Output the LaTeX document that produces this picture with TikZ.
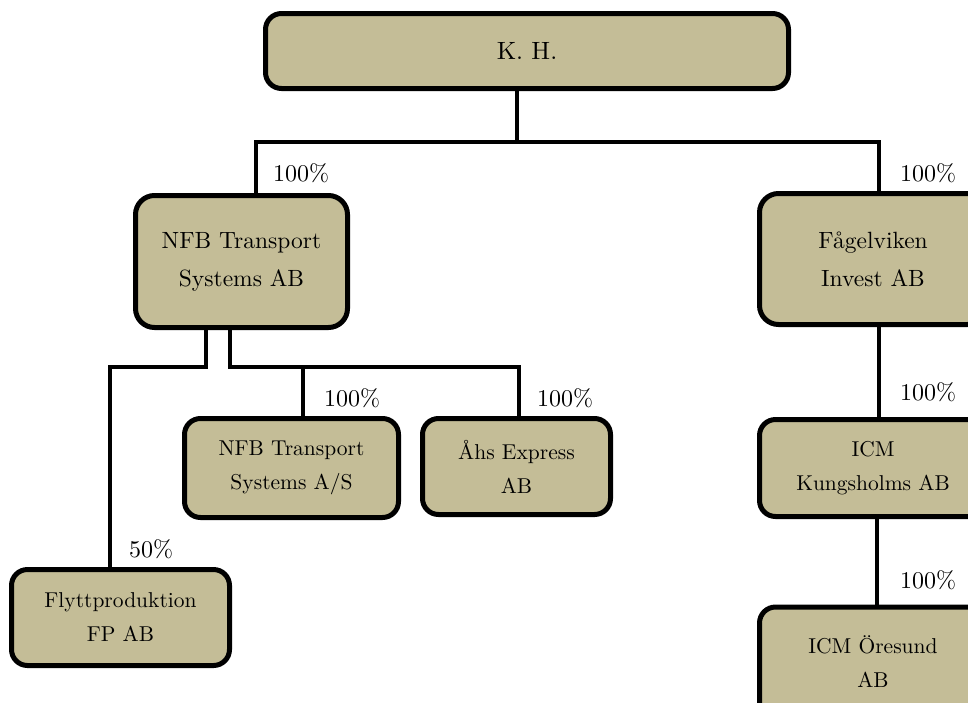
\documentclass[tikz,border=0pt]{standalone}
\usepackage{fontspec}
\setmainfont{lmroman10-regular.otf}
\usepackage{xcolor}
\definecolor{boxtan}{HTML}{C4BD97}
\begin{document}
\begin{tikzpicture}[x=1pt,y=-1pt,
  box/.style={draw=black,line width=5pt,fill=boxtan,rounded corners=16pt,align=center,inner sep=0pt,font=\fontsize{21.5}{34}\selectfont},
  bigbox/.style={box,rounded corners=19pt,font=\fontsize{23.5}{38}\selectfont},
  conn/.style={line width=4pt},
  pct/.style={inner sep=0pt,font=\fontsize{24}{28}\selectfont}]
\useasboundingbox (0,0) rectangle (968,702);
% boxes
\node[box,minimum width=523pt,minimum height=75pt,font=\fontsize{25}{28}\selectfont] (kh) at (527,51) {K. H.};
\node[bigbox,minimum width=212pt,minimum height=132pt] (nfb) at (241.5,261.5) {NFB Transport\\Systems AB};
\node[bigbox,minimum width=227pt,minimum height=131pt] (fag) at (873,259) {Fågelviken\\Invest AB};
\node[box,minimum width=214pt,minimum height=99pt] (nfbas) at (291.5,468) {NFB Transport\\Systems A/S};
\node[box,minimum width=188pt,minimum height=96pt] (ahs) at (516.5,466.5) {Åhs Express\\AB};
\node[box,minimum width=218pt,minimum height=96pt] (flytt) at (120.5,617.5) {Flyttproduktion\\FP AB};
\node[box,minimum width=227pt,minimum height=97pt] (kung) at (873,468) {ICM\\Kungsholms AB};
\node[box,minimum width=227pt,minimum height=110pt] (ores) at (873,662) {ICM Öresund\\AB};
% junction coordinates
\coordinate (j0) at (517,142);
\coordinate (t1) at (256,142);
\coordinate (t2) at (879,142);
\coordinate (b1) at (206,367);
\coordinate (b2) at (230,367);
\coordinate (fl) at (110,367);
\coordinate (a1) at (303,367);
\coordinate (a2) at (519,367);
\coordinate (r1) at (879,400);
\coordinate (r2) at (877,560);
% connectors
\draw[conn] (kh.south -| j0) -- (j0);
\draw[conn] (nfb.north -| t1) -- (t1) -- (t2) -- (fag.north -| t2);
\draw[conn] (nfb.south -| b1) -- (b1) -- (fl) -- (flytt.north -| fl);
\draw[conn] (nfb.south -| b2) -- (b2) -- (a2) -- (ahs.north -| a2);
\draw[conn] (a1) -- (nfbas.north -| a1);
\draw[conn] (fag.south -| r1) -- (kung.north -| r1);
\draw[conn] (kung.south -| r2) -- (ores.north -| r2);
% labels
\node[pct] (p1) at (301,173) {100\%};
\node[pct] (p2) at (928,173) {100\%};
\node[pct] (p3) at (352,398) {100\%};
\node[pct] (p4) at (565,398) {100\%};
\node[pct] (p5) at (151,549) {50\%};
\node[pct] (p6) at (928,392) {100\%};
\node[pct] (p7) at (928,580) {100\%};
\end{tikzpicture}
\end{document}
